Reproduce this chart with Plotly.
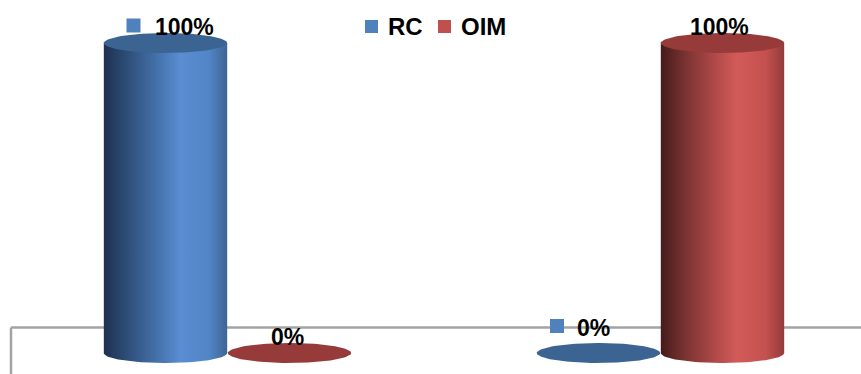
import numpy as np
import plotly.graph_objects as go

# ---- data ----
CATEGORIES = ["1", "2"]
SERIES = ["RC", "OIM"]
RC_VALUES = [100, 0]
OIM_VALUES = [0, 100]
VALUES = {"RC": RC_VALUES, "OIM": OIM_VALUES}

# ---- style ----
W, H = 861, 374
FONT = "Liberation Sans"
FONT_SIZE = 23
LEGEND_FONT_SIZE = 24
BASE_COLOR = {"RC": "#4f81bd", "OIM": "#c0504d"}
TOP_COLOR = {"RC": "#3c6493", "OIM": "#963b3a"}
BODY_SCALE = {
    "RC": [[0.0, "#1d3150"], [0.2, "#2f4f7a"], [0.45, "#4674ae"],
           [0.62, "#5a8dd1"], [0.85, "#5285c7"], [1.0, "#3d6596"]],
    "OIM": [[0.0, "#461b1c"], [0.2, "#7a3332"], [0.45, "#b24a49"],
            [0.62, "#d25b58"], [0.85, "#c4514f"], [1.0, "#923b3b"]],
}

# pixel geometry of the plotting frame
CAT0_PX = 227.5      # centre of first category
CAT_STEP_PX = 433.0  # distance between categories
ZERO_PX = 353.0      # value 0 from top
PX_PER_PCT = 3.1
BAR_PX = 124.0
ELL_RY_PX = 10.0

x_range = [-CAT0_PX / CAT_STEP_PX, (W - CAT0_PX) / CAT_STEP_PX]
y_range = [-(H - ZERO_PX) / PX_PER_PCT, ZERO_PX / PX_PER_PCT]
bw = BAR_PX / CAT_STEP_PX
hw = bw / 2 * 0.995
ry = ELL_RY_PX / PX_PER_PCT
offsets = {"RC": -bw / 2, "OIM": bw / 2}

# label placement: (dx, dy) in px for text centre; square centre for RC keys
LABEL_TEXT = {"RC": [(19, 16.5), (-5.5, 25.5)], "OIM": [(-2, 16.5), (-3, 16.5)]}
LABEL_KEY = {"RC": [(-32, 17.5), (-41.5, 27)], "OIM": [None, None]}
KEY_PX = 14

fig = go.Figure()
t_front = np.linspace(0, np.pi, 60)
t_full = np.linspace(0, 2 * np.pi, 120)

annotations = []
shapes = []

for s in SERIES:
    for i, v in enumerate(VALUES[s]):
        xc = i + offsets[s]
        if v > 0:
            xs = [xc - hw, xc + hw, xc + hw] + list(xc + hw * np.cos(t_front)) + [xc - hw]
            ys = [v, v, 0] + list(-ry * np.sin(t_front)) + [v]
            fig.add_trace(go.Scatter(
                x=xs, y=ys, mode="lines", fill="toself", line=dict(width=0),
                fillcolor=BASE_COLOR[s],
                fillgradient=dict(type="horizontal", colorscale=BODY_SCALE[s]),
                hoverinfo="skip", showlegend=False))
        # cap (or flat disc when value is zero)
        fig.add_trace(go.Scatter(
            x=list(xc + hw * np.cos(t_full)), y=list(v + ry * np.sin(t_full)),
            mode="lines", fill="toself", line=dict(width=0),
            fillcolor=TOP_COLOR[s], hoverinfo="skip", showlegend=False))

        dx, dy = LABEL_TEXT[s][i]
        annotations.append(dict(
            x=xc, y=v, xref="x", yref="y", text=f"<b>{v}%</b>", showarrow=False,
            xshift=dx, yshift=dy, xanchor="center", yanchor="middle",
            font=dict(family=FONT, size=FONT_SIZE, color="#000000")))
        key = LABEL_KEY[s][i]
        if key is not None:
            kx, ky = key
            shapes.append(dict(
                type="rect", xref="x", yref="y", xsizemode="pixel", ysizemode="pixel",
                xanchor=xc, yanchor=v,
                x0=kx - KEY_PX / 2, x1=kx + KEY_PX / 2,
                y0=ky - KEY_PX / 2, y1=ky + KEY_PX / 2,
                fillcolor=BASE_COLOR[s], line=dict(width=0)))

# back wall / floor edge
FLOOR_PX = 327.5
WALL_X_PX = 11
def px2paper_y(py):
    return 1 - py / H
shapes.append(dict(type="line", xref="paper", yref="paper", layer="below",
                   x0=WALL_X_PX / W, x1=1, y0=px2paper_y(FLOOR_PX), y1=px2paper_y(FLOOR_PX),
                   line=dict(color="#a3a3a3", width=2.5)))
shapes.append(dict(type="line", xref="paper", yref="paper", layer="below",
                   x0=WALL_X_PX / W, x1=WALL_X_PX / W, y0=px2paper_y(FLOOR_PX), y1=0,
                   line=dict(color="#a3a3a3", width=2.5)))

# legend
LEGEND_KEY_X = [365, 438]
LEGEND_Y = 26.5
for s, lx in zip(SERIES, LEGEND_KEY_X):
    shapes.append(dict(type="rect", xref="paper", yref="paper",
                       x0=lx / W, x1=(lx + 13) / W,
                       y0=px2paper_y(LEGEND_Y + 6.5), y1=px2paper_y(LEGEND_Y - 6.5),
                       fillcolor=BASE_COLOR[s], line=dict(width=0)))
    annotations.append(dict(x=(lx + 21) / W, y=px2paper_y(LEGEND_Y), xref="paper", yref="paper",
                            text=f"<b>{s}</b>", showarrow=False, xanchor="left", yanchor="middle",
                            font=dict(family=FONT, size=LEGEND_FONT_SIZE, color="#000000")))

fig.update_layout(
    width=W, height=H, margin=dict(l=0, r=0, t=0, b=0),
    paper_bgcolor="white", plot_bgcolor="white",
    xaxis=dict(range=x_range, visible=False, fixedrange=True),
    yaxis=dict(range=y_range, visible=False, fixedrange=True),
    showlegend=False, annotations=annotations, shapes=shapes,
)
fig.write_html("out.html")
